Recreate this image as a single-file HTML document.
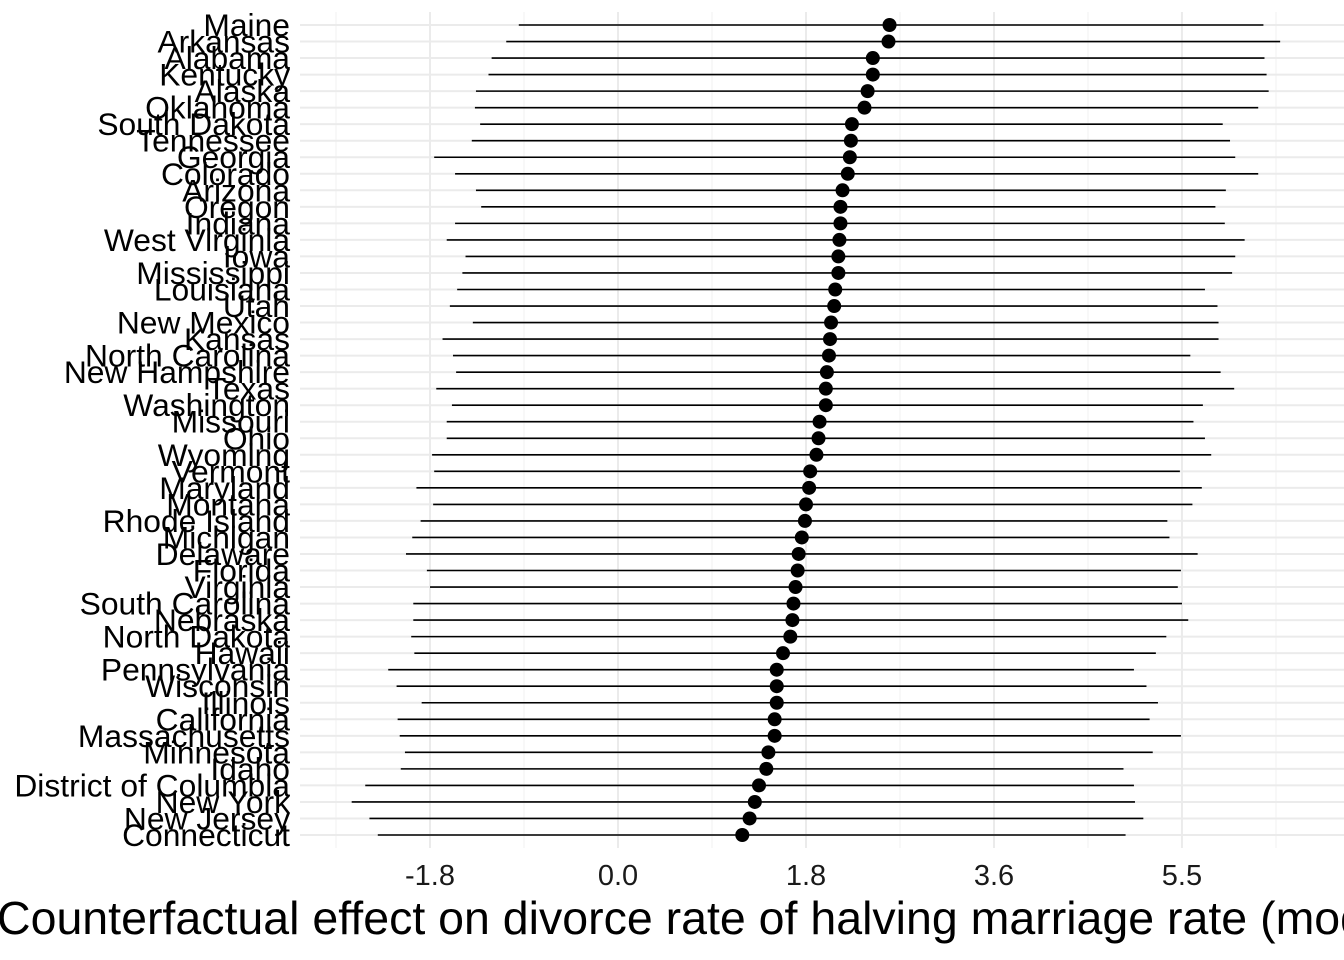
<!DOCTYPE html>
<html><head><meta charset="utf-8"><style>
html,body{margin:0;padding:0;background:#fff;overflow:hidden}
svg{display:block;font-family:"Liberation Sans",sans-serif}
</style></head><body>
<svg id="chart" width="1344" height="960"></svg>
<script>
const states=["Maine","Arkansas","Alabama","Kentucky","Alaska","Oklahoma","South Dakota","Tennessee","Georgia","Colorado","Arizona","Oregon","Indiana","West Virginia","Iowa","Mississippi","Louisiana","Utah","New Mexico","Kansas","North Carolina","New Hampshire","Texas","Washington","Missouri","Ohio","Wyoming","Vermont","Maryland","Montana","Rhode Island","Michigan","Delaware","Florida","Virginia","South Carolina","Nebraska","North Dakota","Hawaii","Pennsylvania","Wisconsin","Illinois","California","Massachusetts","Minnesota","Idaho","District of Columbia","New York","New Jersey","Connecticut"];
const estimates=[2.60,2.59,2.44,2.44,2.39,2.36,2.24,2.23,2.22,2.20,2.15,2.13,2.13,2.12,2.11,2.11,2.08,2.07,2.04,2.03,2.02,2.00,1.99,1.99,1.93,1.92,1.90,1.84,1.83,1.80,1.79,1.76,1.73,1.72,1.70,1.68,1.67,1.65,1.58,1.52,1.52,1.52,1.50,1.50,1.44,1.42,1.35,1.31,1.26,1.19];
const lower=[-0.95,-1.07,-1.21,-1.24,-1.36,-1.37,-1.32,-1.40,-1.76,-1.56,-1.36,-1.31,-1.56,-1.64,-1.46,-1.49,-1.54,-1.61,-1.39,-1.68,-1.58,-1.55,-1.74,-1.59,-1.64,-1.64,-1.78,-1.76,-1.93,-1.77,-1.89,-1.97,-2.03,-1.83,-1.80,-1.96,-1.96,-1.98,-1.95,-2.20,-2.12,-1.88,-2.11,-2.09,-2.04,-2.08,-2.42,-2.55,-2.38,-2.30];
const upper=[6.18,6.34,6.19,6.21,6.23,6.13,5.79,5.86,5.91,6.13,5.82,5.72,5.81,6.00,5.91,5.88,5.62,5.74,5.75,5.75,5.48,5.77,5.90,5.60,5.51,5.62,5.68,5.38,5.59,5.50,5.26,5.28,5.55,5.39,5.36,5.40,5.46,5.25,5.15,4.94,5.06,5.17,5.09,5.39,5.12,4.84,4.94,4.95,5.03,4.86];
const tickValues=[-1.8,0,1.8,3.6,5.4];
const tickLabels=["-1.8","0.0","1.8","3.6","5.5"];
const minorValues=[-2.7,-0.9,0.9,2.7,4.5,6.3];

const NS="http://www.w3.org/2000/svg";
const svg=document.getElementById("chart");
const xs=v=>618+v*104.44;
const ys=i=>25+i*(810/(states.length-1));
function mk(tag,attrs,parent){const e=document.createElementNS(NS,tag);for(const k in attrs)e.setAttribute(k,attrs[k]);(parent||svg).appendChild(e);return e;}
const grid=mk("g",{});


minorValues.forEach(v=>{const l=mk("line",{x1:xs(v),x2:xs(v),y1:12,y2:848,stroke:"#f2f2f2","stroke-width":1},grid);

});
tickValues.forEach(v=>{const l=mk("line",{x1:xs(v),x2:xs(v),y1:12,y2:848,stroke:"#ebebeb","stroke-width":2},grid);

});
states.forEach((s,i)=>{const l=mk("line",{x1:300,x2:1344,y1:ys(i),y2:ys(i),stroke:"#ebebeb","stroke-width":2},grid);

});
states.forEach((s,i)=>{
 const y=ys(i);
 const t=mk("text",{x:290,y:y+11,"text-anchor":"end","font-size":31.8,fill:"#000"});t.textContent=s;
 
 
 const l=mk("line",{x1:xs(lower[i]),x2:xs(upper[i]),y1:y,y2:y,stroke:"#000","stroke-width":1.6});
 
 
 const c=mk("circle",{cx:xs(estimates[i]),cy:y,r:7,fill:"#000"});
 
 
});
tickValues.forEach((v,i)=>{const t=mk("text",{x:xs(v),y:885,"text-anchor":"middle","font-size":29,fill:"#1a1a1a"});t.textContent=tickLabels[i];

});
const title=mk("text",{x:-3,y:934,"font-size":46.5,fill:"#000"});
title.textContent="Counterfactual effect on divorce rate of halving marriage rate (model)";


</script>
</body></html>
